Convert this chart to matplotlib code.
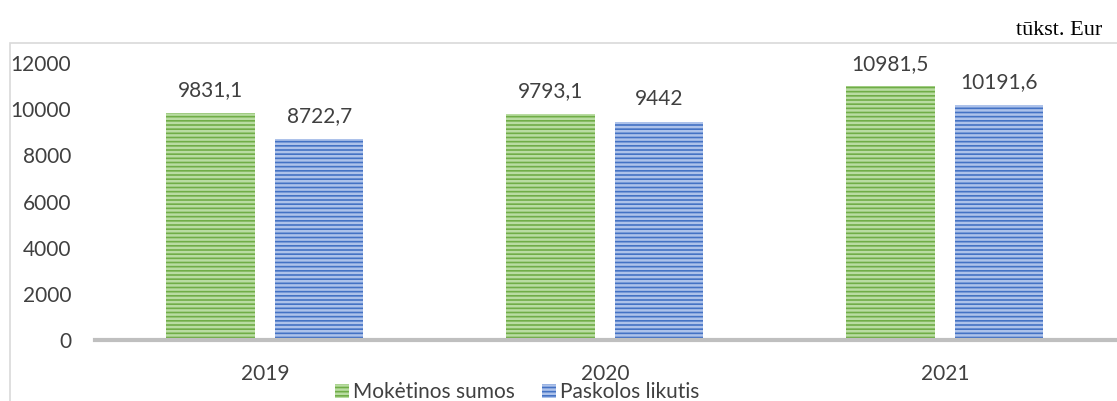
import matplotlib.pyplot as plt
import numpy as np
from matplotlib.patches import Rectangle

years = ['2019', '2020', '2021']
moketinos = [9831.1, 9793.1, 10981.5]
paskolos = [8722.7, 9442, 10191.6]
labels_m = ['9831,1', '9793,1', '10981,5']
labels_p = ['8722,7', '9442', '10191,6']

plt.rcParams['font.family'] = ['Lato', 'DejaVu Sans']
plt.rcParams['hatch.linewidth'] = 1.8

fig = plt.figure(figsize=(11.17, 4.01), dpi=100)
ax = fig.add_axes([0.085, 0.152, 0.913, 0.691])

x = np.arange(len(years))
w = 0.26
off = 0.16
b1 = ax.bar(x - off, moketinos, w, color='#70ad47', edgecolor='#b9dca2', hatch='----',
            linewidth=0, label='Mokėtinos sumos')
b2 = ax.bar(x + off, paskolos, w, color='#4472c4', edgecolor='#adc2ea', hatch='----',
            linewidth=0, label='Paskolos likutis')

for xi, v, t in zip(x - off, moketinos, labels_m):
    ax.text(xi, v + 550, t, ha='center', va='bottom', fontsize=15, color='#404040')
for xi, v, t in zip(x + off, paskolos, labels_p):
    ax.text(xi, v + 550, t, ha='center', va='bottom', fontsize=15, color='#404040')

ax.set_xlim(-0.5, 2.5)
ax.set_ylim(0, 12000)
ax.set_yticks(range(0, 12001, 2000))
ax.set_xticks(x)
ax.set_xticklabels(years)
ax.tick_params(axis='both', length=0, labelsize=15, labelcolor='#404040')
ax.tick_params(axis='y', pad=17)
ax.tick_params(axis='x', pad=17)
for s in ['top', 'right', 'left']:
    ax.spines[s].set_visible(False)
ax.spines['bottom'].set_color('#bfbfbf')
ax.spines['bottom'].set_linewidth(3)

leg = fig.legend(loc='center', bbox_to_anchor=(0.463, 0.022), ncol=2, frameon=False,
                 fontsize=15, handlelength=0.65, handleheight=0.65, handletextpad=0.2,
                 columnspacing=1.3, labelcolor='#404040')

# chart frame
fig.patches.append(Rectangle((0.009, -0.01), 1.0, 0.903, transform=fig.transFigure,
                             fill=False, edgecolor='#d9d9d9', linewidth=1.2))

fig.text(0.987, 0.925, 'tūkst. Eur', ha='right', va='center', fontsize=16,
         family=['Liberation Serif', 'DejaVu Serif'])

fig.savefig('out.png', dpi=100)
